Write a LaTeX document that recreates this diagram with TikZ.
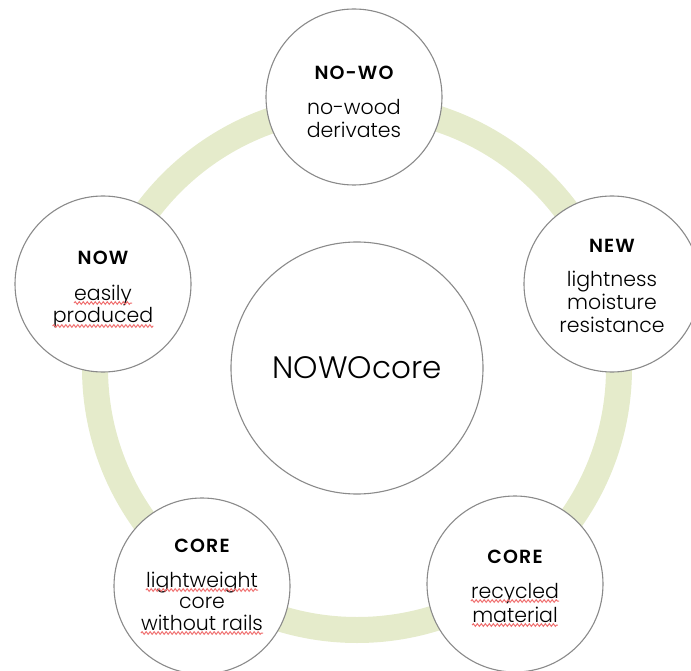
\documentclass[tikz,border=0pt]{standalone}
\usepackage{fontspec}
\setmainfont{Poppins Light}[BoldFont={Poppins SemiBold}]
\usetikzlibrary{decorations.pathmorphing}
\definecolor{ringgreen}{HTML}{E5EBCB}
\definecolor{rimgray}{HTML}{8A8A8A}
\definecolor{squigred}{HTML}{F07070}
\begin{document}
\begin{tikzpicture}[x=1pt,y=-1pt,
 bubble/.style={circle, draw=rimgray, line width=1.1pt, fill=white, minimum size=176pt, inner sep=0},
 hub/.style={circle, draw=rimgray, line width=1.1pt, fill=white, minimum size=252pt, inner sep=0, font=\fontsize{31}{36}\selectfont},
 ttl/.style={anchor=base, font=\bfseries\fontsize{19}{22}\selectfont\addfontfeatures{LetterSpace=6}, inner sep=0},
 txt/.style={anchor=base, font=\fontsize{20.5}{23}\selectfont, inner sep=0},
 squig/.style={draw=squigred, line width=1pt, decorate, decoration={snake, amplitude=1.3pt, segment length=4pt}}]
\useasboundingbox (0,0) rectangle (691,671);
\node[circle, draw=ringgreen, line width=26pt, minimum size=524pt, inner sep=0] (ring) at (357,368) {};
\node[bubble] (nowo) at (354,97) {};
\node[bubble] (new) at (612,284) {};
\node[bubble] (corer) at (515,584) {};
\node[bubble] (corel) at (202,586) {};
\node[bubble] (now) at (103,284) {};
\node[hub] (hub) at (357,368) {NOWOcore};
% NO-WO
\node[ttl] (t1) at ([yshift=17pt]nowo.center) {NO-WO};
\node[txt] (a1) at ([yshift=-18pt]nowo.center) {no-wood};
\node[txt] (a2) at ([yshift=-41pt]nowo.center) {derivates};
% NEW
\node[ttl] (t2) at ([yshift=31pt]new.center) {NEW};
\node[txt] (b1) at ([yshift=-3pt]new.center) {lightness};
\node[txt] (b2) at ([yshift=-25pt]new.center) {moisture};
\node[txt] (b3) at ([yshift=-48pt]new.center) {resistance};
% CORE right
\node[ttl] (t3) at ([yshift=21pt]corer.center) {CORE};
\node[txt] (c1) at ([yshift=-14pt]corer.center) {recycled};
\node[txt] (c2) at ([yshift=-38pt]corer.center) {material};
% CORE left
\node[ttl] (t4) at ([yshift=34pt]corel.center) {CORE};
\node[txt] (d1) at ([yshift=-1pt]corel.center) {lightweight};
\node[txt] (d2) at ([yshift=-22pt]corel.center) {core};
\node[txt] (d3) at ([yshift=-44pt]corel.center) {without rails};
% NOW
\node[ttl] (t5) at ([yshift=19pt]now.center) {NOW};
\node[txt] (e1) at ([yshift=-16pt]now.center) {easily};
\node[txt] (e2) at ([yshift=-39pt]now.center) {produced};
% spell-check squiggles
\foreach \w in {c1,c2,d1,d3,e1,e2}
  \draw[squig] ([yshift=-3pt]\w.base west) -- ([yshift=-3pt]\w.base east);
\end{tikzpicture}
\end{document}
